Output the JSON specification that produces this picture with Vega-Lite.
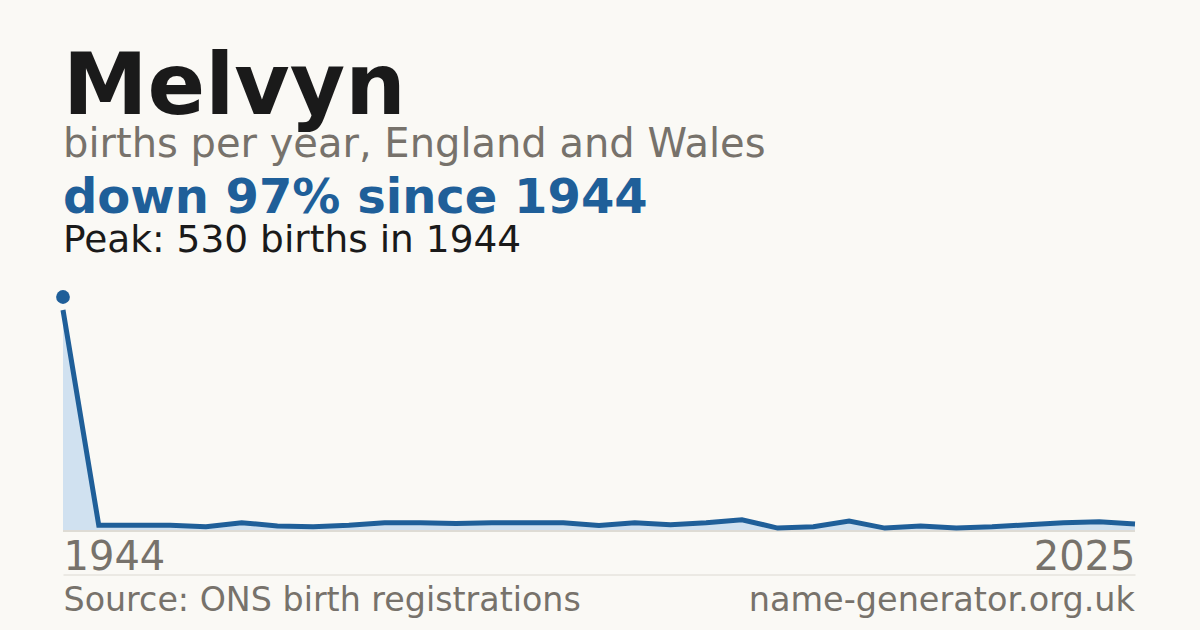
{
  "$schema": "https://vega.github.io/schema/vega-lite/v6.json",
  "background": "#faf9f5",
  "padding": {"left": 53, "right": 64, "top": 45, "bottom": 15},
  "title": {
    "text": "name-generator.org.uk",
    "orient": "bottom",
    "anchor": "end",
    "frame": "group",
    "baseline": "alphabetic",
    "offset": -5.5,
    "fontSize": 33.5,
    "fontWeight": "normal",
    "color": "#77726b"
  },
  "vconcat": [{
    "title": {
      "text": "Melvyn",
      "subtitle": "births per year, England and Wales",
      "anchor": "start",
      "frame": "group",
      "fontSize": 85,
      "fontWeight": "bold",
      "color": "#1a1a1a",
      "subtitleFontSize": 40,
      "subtitleColor": "#77726b",
      "subtitlePadding": -7,
      "offset": 9
    },
    "vconcat": [{
      "width": 1072,
      "height": 221,
      "title": {
        "text": "down 97% since 1944",
        "subtitle": "Peak: 530 births in 1944",
        "anchor": "start",
        "frame": "group",
        "fontSize": 48,
        "fontWeight": "bold",
        "color": "#1f5f99",
        "subtitleFontSize": 37.5,
        "subtitleColor": "#1a1a1a",
        "subtitlePadding": -0.5,
        "offset": 30.5
      },
      "data": {
        "values": [
          {"year": 1944, "births": 530},
          {"year": 1996, "births": 14},
          {"year": 1997, "births": 14},
          {"year": 1998, "births": 14},
          {"year": 1999, "births": 10},
          {"year": 2000, "births": 20},
          {"year": 2001, "births": 12},
          {"year": 2002, "births": 10},
          {"year": 2003, "births": 14},
          {"year": 2004, "births": 20},
          {"year": 2005, "births": 20},
          {"year": 2006, "births": 18},
          {"year": 2007, "births": 20},
          {"year": 2008, "births": 20},
          {"year": 2009, "births": 20},
          {"year": 2010, "births": 13},
          {"year": 2011, "births": 20},
          {"year": 2012, "births": 15},
          {"year": 2013, "births": 20},
          {"year": 2014, "births": 27},
          {"year": 2015, "births": 7},
          {"year": 2016, "births": 10},
          {"year": 2017, "births": 24},
          {"year": 2018, "births": 7},
          {"year": 2019, "births": 12},
          {"year": 2020, "births": 7},
          {"year": 2021, "births": 10},
          {"year": 2022, "births": 15},
          {"year": 2023, "births": 20},
          {"year": 2024, "births": 22},
          {"year": 2025, "births": 17}
        ]
      },
      "encoding": {
        "x": {
          "field": "year",
          "type": "ordinal",
          "scale": {"type": "point", "padding": 0},
          "axis": {
            "orient": "bottom",
            "values": [1944, 2025],
            "offset": 43.5,
            "domainColor": "#dcd9d2",
            "domainWidth": 1,
            "ticks": false,
            "tickSize": 0,
            "labelAngle": 0,
            "labelFlush": true,
            "labelBaseline": "alphabetic",
            "labelPadding": -5,
            "labelFontSize": 40,
            "labelColor": "#77726b",
            "title": "Source: ONS birth registrations",
            "titleX": 0,
            "titleY": 36,
            "titleAlign": "left",
            "titleAnchor": "start",
            "titleBaseline": "alphabetic",
            "titleFontSize": 33.3,
            "titleFontWeight": "normal",
            "titleColor": "#77726b"
          }
        },
        "y": {
          "field": "births",
          "type": "quantitative",
          "scale": {"domain": [0, 530], "nice": false},
          "axis": null
        }
      },
      "layer": [
        {"mark": {"type": "area", "color": "#d0e1f0", "opacity": 1}},
        {"mark": {"type": "rule", "color": "#dedbd4", "strokeWidth": 1}, "encoding": {"x": null, "y": {"datum": 0}}},
        {"mark": {"type": "line", "color": "#1f5f99", "strokeWidth": 5}},
        {
          "transform": [{"filter": "datum.year == 1944"}],
          "mark": {"type": "circle", "color": "#1f5f99", "opacity": 1, "size": 190, "yOffset": -13}
        }
      ]
    }]
  }],
  "config": {
    "font": "DejaVu Sans",
    "view": {"stroke": null}
  }
}
